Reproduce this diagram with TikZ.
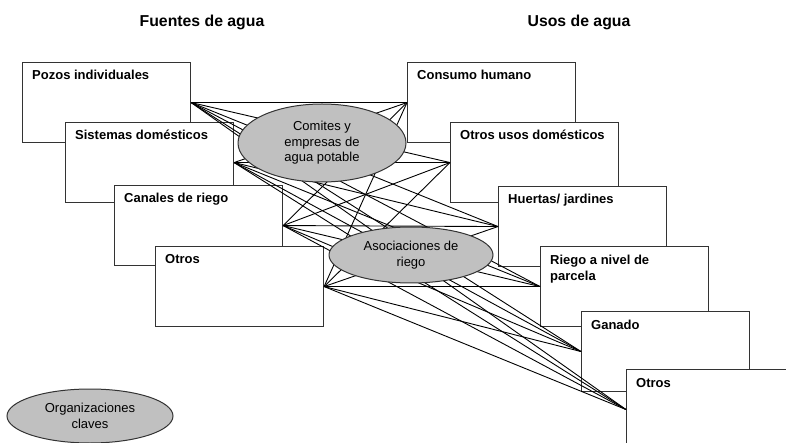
\documentclass[tikz,border=0pt]{standalone}
\usepackage{fontspec}
\setmainfont{Liberation Sans}
\usetikzlibrary{shapes.geometric}
\definecolor{ellfill}{HTML}{C0C0C0}
\definecolor{edge}{HTML}{333333}
\begin{document}
\begin{tikzpicture}[x=1pt,y=-1pt,
  srcbox/.style={draw=edge, line width=1.1pt, fill=white, rectangle, minimum width=168pt, minimum height=80pt, inner sep=0pt, anchor=north west},
  lbl/.style={font=\fontsize{13}{16}\selectfont\bfseries, anchor=base west, inner sep=0pt, align=left},
  ttl/.style={font=\fontsize{15.8}{19}\selectfont\bfseries, anchor=base, inner sep=0pt},
  org/.style={ellipse, draw=edge, line width=1pt, fill=ellfill, inner sep=0pt, font=\fontsize{13}{15.5}\selectfont, align=center},
  link/.style={draw=black, line width=0.9pt}
]
\useasboundingbox (0,0) rectangle (786,443);
\clip (0,0) rectangle (786,443);

% titles
\node[ttl] (t1) at (202,27) {Fuentes de agua};
\node[ttl] (t2) at (579,27) {Usos de agua};

% source boxes
\node[srcbox] (s1) at (22,62) {};
\node[lbl] (s1l) at ([xshift=10pt,yshift=-18pt]s1.north west) {Pozos individuales};
\node[srcbox] (s2) at (65,122) {};
\node[lbl] (s2l) at ([xshift=10pt,yshift=-18pt]s2.north west) {Sistemas domésticos};
\node[srcbox] (s3) at (114,185) {};
\node[lbl] (s3l) at ([xshift=10pt,yshift=-18pt]s3.north west) {Canales de riego};
\node[srcbox] (s4) at (155,246) {};
\node[lbl] (s4l) at ([xshift=10pt,yshift=-18pt]s4.north west) {Otros};

% use boxes
\node[srcbox] (u1) at (407,62) {};
\node[lbl] (u1l) at ([xshift=10pt,yshift=-18pt]u1.north west) {Consumo humano};
\node[srcbox] (u2) at (450,122) {};
\node[lbl] (u2l) at ([xshift=10pt,yshift=-18pt]u2.north west) {Otros usos domésticos};
\node[srcbox] (u3) at (498,186) {};
\node[lbl] (u3l) at ([xshift=10pt,yshift=-18pt]u3.north west) {Huertas/ jardines};
\node[srcbox] (u4) at (540,246) {};
\node[lbl] (u4l) at ([xshift=10pt,yshift=-34pt]u4.north west) {Riego a nivel de\\parcela};
\node[srcbox] (u5) at (581,311) {};
\node[lbl] (u5l) at ([xshift=10pt,yshift=-18pt]u5.north west) {Ganado};
\node[srcbox] (u6) at (626,369) {};
\node[lbl] (u6l) at ([xshift=10pt,yshift=-18pt]u6.north west) {Otros};

% links: every source to every use
\foreach \s in {s1,s2,s3,s4}{
  \foreach \u in {u1,u2,u3,u4,u5,u6}{
    \draw[link] (\s.east) -- (\u.west);
  }
}

% key organisations
\node[org, minimum width=168pt, minimum height=78pt] (comites) at (322,143) {Comites y\\empresas de\\agua potable};
\node[org, minimum width=164pt, minimum height=56pt] (asoc) at (411,255) {Asociaciones de\\riego};
\node[org, minimum width=166pt, minimum height=54pt] (legend) at (90,416) {Organizaciones\\claves};
\end{tikzpicture}
\end{document}
